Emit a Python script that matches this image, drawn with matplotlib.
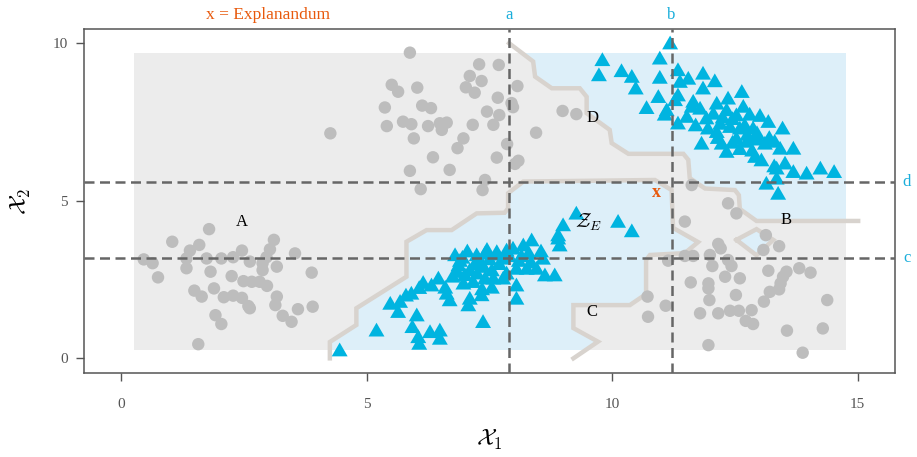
import numpy as np
import matplotlib
matplotlib.use("Agg")
import matplotlib.pyplot as plt
from matplotlib.patches import Rectangle, Polygon

plt.rcParams['font.family'] = ['Liberation Serif', 'DejaVu Serif']
plt.rcParams['mathtext.fontset'] = 'cm'

# --- data ---
# gray circles (class 1)
circ_x = [1.79, 1.04, 1.59, 1.40, 3.11, 3.03, 2.46, 3.54, 0.46, 0.64, 0.75, 1.33, 1.33, 1.74, 2.04,
          2.28, 2.62, 2.88, 2.96, 3.17, 2.88, 3.88, 1.82, 2.25, 2.49, 2.66, 2.82, 2.97, 1.89, 1.49,
          1.64, 2.09, 2.28, 2.46, 3.17, 3.14, 2.59, 2.62, 3.90, 3.60, 1.92, 2.04, 3.29, 3.47, 1.57,
          # top middle
          5.88, 7.29, 7.69, 7.10, 7.34, 5.51, 5.64, 6.03, 7.02, 7.20, 8.07, 7.67, 5.37, 6.13, 6.31,
          7.45, 7.70, 7.95, 7.98, 5.41, 5.74, 5.91, 6.25, 6.49, 6.63, 6.53, 7.16, 7.58, 4.26, 5.96,
          6.97, 6.85, 7.86, 6.35, 7.65, 8.09, 8.02, 5.88, 6.69, 7.41, 7.36, 6.10, 8.45, 8.99, 9.27,
          # right bottom
          11.62, 12.36, 12.53, 11.48, 13.13, 13.08, 13.40, 12.16, 12.21, 11.99, 11.65, 11.48, 11.14,
          12.36, 12.43, 12.04, 13.18, 13.55, 13.48, 13.81, 14.04, 12.30, 12.60, 11.60, 11.96, 11.96,
          13.43, 13.40, 13.21, 12.52, 11.98, 13.09, 14.38, 11.09, 10.72, 10.73, 11.79, 12.16, 12.40,
          12.58, 12.84, 12.72, 12.87, 13.56, 14.29, 11.96, 13.88]
circ_y = [4.10, 3.70, 3.60, 3.42, 3.76, 3.46, 3.42, 3.33, 3.14, 3.02, 2.57, 3.17, 2.86, 3.17, 3.17,
          3.21, 3.07, 3.02, 3.21, 2.91, 2.80, 2.72, 2.75, 2.61, 2.45, 2.43, 2.43, 2.30, 2.22, 2.15,
          1.96, 1.94, 1.99, 1.92, 1.96, 1.69, 1.66, 1.59, 1.64, 1.56, 1.37, 1.09, 1.35, 1.16, 0.45,
          9.70, 9.33, 9.31, 8.96, 8.80, 8.68, 8.46, 8.59, 8.60, 8.43, 8.64, 8.27, 7.96, 8.02, 7.94,
          7.83, 7.72, 8.10, 7.97, 7.37, 7.51, 7.43, 7.37, 7.46, 7.48, 7.25, 7.41, 7.41, 7.14, 6.98,
          6.98, 6.67, 6.80, 6.38, 6.37, 6.27, 6.17, 5.95, 5.98, 5.66, 5.34, 5.37, 7.16, 7.85, 7.75,
          5.50, 4.92, 4.60, 4.34, 3.91, 3.44, 3.56, 3.63, 3.49, 3.28, 3.25, 3.25, 3.10,
          3.12, 2.93, 2.93, 2.78, 2.75, 2.59, 2.86, 2.72, 2.59, 2.54, 2.41, 2.38, 2.22,
          2.38, 2.19, 2.11, 2.01, 1.85, 1.80, 1.85, 1.67, 1.96, 1.32, 1.43, 1.43, 1.51,
          1.51, 1.53, 1.19, 1.09, 0.88, 0.95, 0.42, 0.18]

# blue triangles (class 2)
tri_x = [4.45, 5.20, 5.48, 5.68, 5.64, 5.91, 6.07, 6.02, 5.93, 6.05, 6.07, 6.29, 6.49, 6.49, 6.32,
         6.46, 6.63, 6.69, 7.07, 7.10, 7.34, 7.37, 6.80, 6.87, 6.97, 7.10, 7.17, 7.24, 7.41, 7.38,
         7.41, 7.58, 7.65, 7.78, 7.78, 7.98, 8.05, 8.05, 8.05, 8.19, 8.26, 8.36, 8.46, 8.59, 8.63,
         8.83, 8.90, 8.93, 9.00, 9.27, 10.12, 10.40, 6.90, 7.00, 7.30, 7.55, 7.90, 8.15, 8.35, 7.50,
         6.95, 7.25, 7.70, 6.75, 6.60, 7.55, 7.85, 8.90, 7.05, 7.45, 7.85, 8.30, 8.55, 7.20, 7.65,
         6.85, 8.10, 7.35, 6.15, 5.80,
         # upper right
         11.18, 9.80, 9.73, 10.97, 10.19, 10.40, 10.48, 10.97, 11.34, 11.55, 11.38, 11.85, 12.09,
         11.85, 10.94, 10.70, 11.34, 11.28, 11.11, 11.07, 11.34, 11.62, 11.79, 12.13, 12.36, 12.64,
         12.33, 11.92, 11.52, 12.67, 12.06, 12.53, 12.80, 13.01, 13.18, 12.13, 12.40, 12.60, 12.87,
         11.82, 12.23, 12.33, 12.53, 12.74, 12.97, 13.11, 13.31, 13.47, 13.42, 13.69, 12.91, 13.04,
         13.35, 13.52, 13.69, 13.96, 14.24, 14.52, 13.14, 13.35, 13.38, 11.65, 13.30,
         12.20, 12.45, 12.70, 12.95, 12.60, 12.85, 12.15, 12.45, 11.95, 13.20, 12.75, 12.25, 11.70, 12.90]
tri_y = [0.21, 0.84, 1.69, 1.75, 1.43, 2.01, 2.19, 1.32, 0.95, 0.63, 0.42, 0.79, 0.84, 0.58, 2.27,
         2.49, 2.01, 1.80, 1.64, 1.85, 1.96, 1.11, 3.23, 2.91, 2.33, 2.75, 2.38, 3.23, 3.28, 2.86,
         2.49, 2.49, 3.33, 3.12, 2.49, 3.44, 2.80, 2.27, 1.85, 3.54, 2.80, 3.70, 2.80, 3.12, 2.59,
         2.59, 3.76, 3.54, 4.18, 4.55, 4.29, 3.99, 3.05, 2.60, 3.05, 2.75, 3.20, 3.20, 3.00, 3.10,
         3.15, 2.65, 2.95, 2.55, 2.20, 2.20, 2.65, 3.86, 3.35, 3.40, 3.38, 3.30, 3.35, 2.95, 3.25,
         2.70, 3.05, 2.15, 2.35, 1.95,
         9.95, 9.42, 8.94, 9.47, 9.07, 8.89, 8.52, 8.86, 9.10, 8.83, 8.73, 8.99, 8.75,
         8.52, 8.25, 7.90, 8.30, 8.15, 7.83, 7.69, 7.41, 7.94, 7.88, 8.04, 8.20, 8.41,
         7.83, 7.57, 7.62, 7.94, 7.72, 7.67, 7.69, 7.65, 7.46, 7.14, 7.30, 7.25, 7.25,
         6.77, 6.77, 6.51, 6.93, 6.83, 6.93, 6.77, 6.83, 7.25, 6.61, 6.61, 6.35, 6.24,
         5.98, 6.14, 5.87, 5.82, 5.98, 5.87, 5.50, 5.66, 5.18, 8.10, 6.05,
         7.40, 7.55, 7.35, 7.10, 6.60, 6.55, 6.95, 6.80, 7.25, 6.95, 7.05, 7.60, 7.35, 6.90]

# decision boundaries
d_line_x = [7.90, 8.39, 8.43, 8.77, 9.34, 9.48, 9.48, 9.95, 9.99, 10.33, 11.45, 11.55, 11.58,
            11.89, 12.50, 12.58, 12.60, 12.94, 15.01]
d_line_y = [10.0, 9.42, 8.94, 8.57, 8.57, 8.30, 7.78, 7.25, 6.83, 6.49, 6.49, 6.30, 5.72,
            5.39, 5.34, 5.18, 4.74, 4.36, 4.36]
z_line_x = [4.25, 4.25, 4.79, 4.79, 5.81, 5.81, 6.22, 6.73, 7.24, 7.81, 7.88, 7.88, 8.19, 10.87,
            11.21, 11.24, 11.75, 11.48, 10.77, 10.69, 10.69, 10.36, 9.21, 9.21, 9.71, 9.21]
z_line_y = [0.0, 0.52, 1.06, 1.59, 2.59, 3.70, 4.07, 4.07, 4.60, 4.62, 4.76, 5.24, 5.61, 5.66,
            5.34, 4.14, 3.69, 3.34, 3.28, 3.12, 2.04, 1.69, 1.69, 0.96, 0.53, 0.0]
loop_x = [12.53, 12.94, 13.28, 12.94, 12.53]
loop_y = [3.76, 4.10, 3.76, 3.27, 3.76]

raster_x = (0.26, 14.76)
raster_y = (0.26, 9.70)

a, b = 7.90, 11.21
c, d = 3.19, 5.59
explanandum = (10.90, 5.27)

gray_bg = '#ececec'
blue_bg = '#ddeff9'
line_col = '#d8d3ce'
dot_col = '#bdbdbd'
tri_col = '#00b4e0'
dash_col = '#666666'
orange = '#e8590c'
cyan = '#1aaedb'

fig = plt.figure(figsize=(9.17, 4.57), dpi=100)
ax = fig.add_axes([0.092, 0.183, 0.884, 0.7535])

rect = Rectangle((raster_x[0], raster_y[0]), raster_x[1] - raster_x[0], raster_y[1] - raster_y[0],
                 facecolor=gray_bg, edgecolor='none', zorder=0)
ax.add_patch(rect)

upper = list(zip(d_line_x, d_line_y)) + [(16, 4.36), (16, 11), (7.90, 11)]
lower = list(zip(z_line_x, z_line_y))
for pts in [upper, lower, list(zip(loop_x, loop_y))]:
    poly = Polygon(pts, closed=True, facecolor=blue_bg, edgecolor='none', zorder=1)
    ax.add_patch(poly)
    poly.set_clip_path(rect)

for lx, ly in [(d_line_x, d_line_y), (z_line_x, z_line_y), (loop_x, loop_y)]:
    ax.plot(lx, ly, color=line_col, lw=3.2, solid_joinstyle='miter', zorder=2)

tri = [(0, 0.577), (-0.5, -0.289), (0.5, -0.289)]
ax.scatter(circ_x, circ_y, s=80, color=dot_col, edgecolors='none', zorder=3)
ax.scatter(tri_x, tri_y, s=175, marker=tri, color=tri_col, edgecolors='none', zorder=3)

for v in (a, b):
    ax.axvline(v, color=dash_col, lw=1.8, dashes=(4, 2.2), zorder=4)
for h in (c, d):
    ax.axhline(h, color=dash_col, lw=1.8, dashes=(4, 2.2), zorder=4)

ax.text(explanandum[0], explanandum[1], 'x', color=orange, fontsize=13, fontweight='bold',
        ha='center', va='center', zorder=5)
ax.text(2.46, 4.32, 'A', fontsize=12, ha='center', va='center', zorder=5)
ax.text(13.54, 4.39, 'B', fontsize=12, ha='center', va='center', zorder=5)
ax.text(9.59, 1.48, 'C', fontsize=12, ha='center', va='center', zorder=5)
ax.text(9.59, 7.63, 'D', fontsize=12, ha='center', va='center', zorder=5)
ax.text(9.53, 4.32, r'$\mathcal{Z}_E$', fontsize=14, ha='center', va='center', zorder=5)

# labels outside the panel
ax.text(2.98, 10.9, 'x = Explanandum', color=orange, fontsize=12.5, ha='center', va='center',
        clip_on=False)
ax.text(a, 10.9, 'a', color=cyan, fontsize=12, ha='center', va='center', clip_on=False)
ax.text(b, 10.9, 'b', color=cyan, fontsize=12, ha='center', va='center', clip_on=False)
ax.text(16.0, c, 'c', color=cyan, fontsize=12, ha='center', va='center', clip_on=False)
ax.text(16.0, d, 'd', color=cyan, fontsize=12, ha='center', va='center', clip_on=False)

ax.set_xlim(-0.75, 15.76)
ax.set_ylim(-0.476, 10.45)
ax.set_xticks([0, 5, 10, 15])
ax.set_yticks([0, 5, 10])
ax.tick_params(axis='x', length=6, width=1, color='#555555', pad=12, labelsize=11,
               labelcolor='#555555')
ax.tick_params(axis='y', length=6, width=1, color='#555555', pad=6, labelsize=11,
               labelcolor='#555555')
for s in ax.spines.values():
    s.set_color('#555555')
    s.set_linewidth(1.1)

ax.set_xlabel(r'$\mathcal{X}_1$', fontsize=17, labelpad=12)
ax.set_ylabel(r'$\mathcal{X}_2$', fontsize=17, labelpad=14)

plt.savefig('out.png', dpi=100)
